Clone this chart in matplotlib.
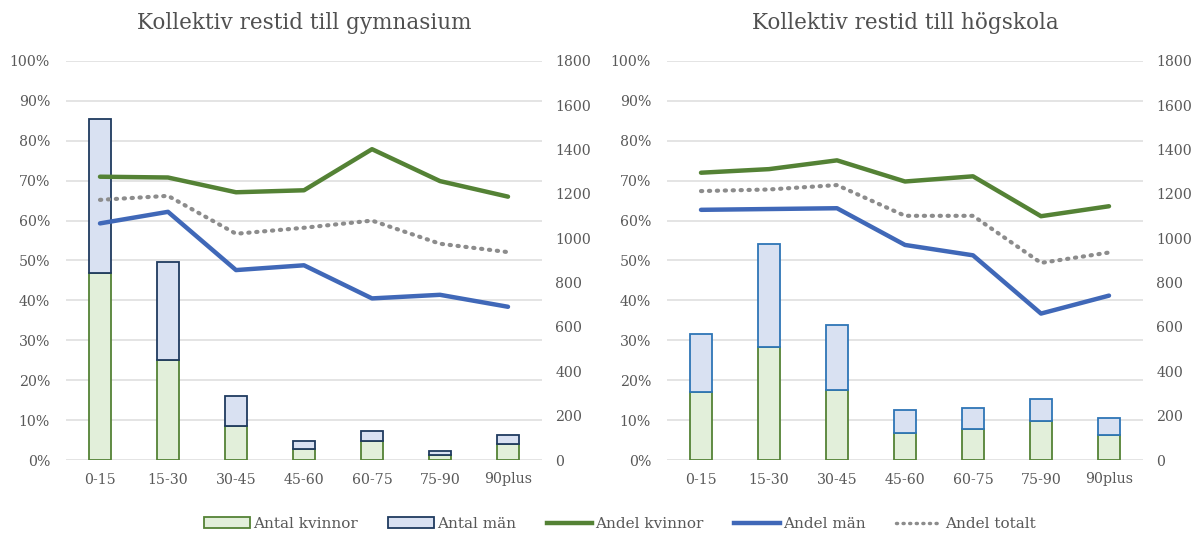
import matplotlib
matplotlib.use("Agg")
import matplotlib.pyplot as plt
import numpy as np
from matplotlib.patches import Patch
from matplotlib.lines import Line2D

categories = ["0-15", "15-30", "30-45", "45-60", "60-75", "75-90", "90plus"]

# Gymnasium
gym_kvinnor = [845, 451, 153, 48, 87, 21, 71]
gym_man = [693, 441, 136, 36, 44, 20, 42]
gym_andel_kvinnor = [71.0, 70.8, 67.1, 67.6, 77.9, 69.9, 66.0]
gym_andel_man = [59.3, 62.2, 47.6, 48.8, 40.5, 41.4, 38.4]
gym_andel_totalt = [65.2, 66.2, 56.7, 58.2, 60.0, 54.2, 52.1]

# Högskola
hog_kvinnor = [307, 512, 315, 120, 138, 174, 111]
hog_man = [260, 461, 294, 105, 97, 101, 80]
hog_andel_kvinnor = [72.0, 72.9, 75.1, 69.8, 71.1, 61.1, 63.6]
hog_andel_man = [62.7, 62.9, 63.1, 53.9, 51.3, 36.7, 41.2]
hog_andel_totalt = [67.4, 67.8, 68.9, 61.2, 61.2, 49.4, 52.0]

titles = ["Kollektiv restid till gymnasium", "Kollektiv restid till högskola"]

FONT = "DejaVu Serif"
plt.rcParams["font.family"] = [FONT]

GREEN = "#548235"
BLUE = "#4068b8"
GRAY = "#8c8c8c"
FILL_W = "#e2efda"
FILL_M = "#d9e1f2"
EDGE_M = ["#1f3a5f", "#2e75b6"]
TXT = "#595959"
GRID = "#dcdcdc"

fig = plt.figure(figsize=(11.96, 5.34), dpi=100)

datasets = [
    (gym_kvinnor, gym_man, gym_andel_kvinnor, gym_andel_man, gym_andel_totalt),
    (hog_kvinnor, hog_man, hog_andel_kvinnor, hog_andel_man, hog_andel_totalt),
]
lefts = [66 / 1196, 667 / 1196]
W = 476 / 1196
B = (534 - 460) / 534
H = 399 / 534

x = np.arange(len(categories))
for i, (kv, ma, ak, am, at) in enumerate(datasets):
    ax = fig.add_axes([lefts[i], B, W, H])
    ax2 = ax.twinx()
    # grid lines at every 10 % of the primary axis (drawn on the secondary, behind bars)
    for v in np.arange(0, 101, 10):
        ax2.axhline(v * 18, color=GRID, linewidth=1.1, zorder=0)
    # bars on secondary axis
    ax2.bar(x, kv, width=0.32, color=FILL_W, edgecolor=GREEN, linewidth=1.3, zorder=2)
    ax2.bar(x, ma, bottom=kv, width=0.32, color=FILL_M, edgecolor=EDGE_M[i], linewidth=1.3, zorder=2)
    ax2.set_ylim(0, 1800)
    ax2.set_yticks(np.arange(0, 1801, 200))
    # lines on primary axis, drawn above bars
    ax.set_zorder(ax2.get_zorder() + 1)
    ax.patch.set_visible(False)
    ax.plot(x, ak, color=GREEN, linewidth=3.2, solid_capstyle="round", zorder=3)
    ax.plot(x, am, color=BLUE, linewidth=3.2, solid_capstyle="round", zorder=3)
    ax.plot(x, at, color=GRAY, linewidth=3.0, linestyle=(0, (0.3, 1.6)), dash_capstyle="round", zorder=3)
    ax.set_ylim(0, 100)
    ax.set_yticks(np.arange(0, 101, 10))
    ax.set_yticklabels([f"{v}%" for v in range(0, 101, 10)])
    ax.set_xlim(-0.5, len(categories) - 0.5)
    ax.set_xticks(x)
    ax.set_xticklabels(categories)
    for a in (ax, ax2):
        for s in a.spines.values():
            s.set_visible(False)
        a.tick_params(length=0, colors=TXT, labelsize=10.2)
    ax.tick_params(axis="y", pad=11.5)
    ax2.tick_params(axis="y", pad=9.5)
    ax.tick_params(axis="x", pad=9)
    ax.set_title(titles[i], fontsize=15.5, color="#505050", pad=23)

handles = [
    Patch(facecolor=FILL_W, edgecolor=GREEN, linewidth=1.3, label="Antal kvinnor"),
    Patch(facecolor=FILL_M, edgecolor=EDGE_M[0], linewidth=1.3, label="Antal män"),
    Line2D([0], [0], color=GREEN, linewidth=3.2, label="Andel kvinnor"),
    Line2D([0], [0], color=BLUE, linewidth=3.2, label="Andel män"),
    Line2D([0], [0], color=GRAY, linewidth=2.5, linestyle=(0, (0.3, 1.6)), dash_capstyle="round", label="Andel totalt"),
]
leg = fig.legend(handles=handles, loc="center", bbox_to_anchor=(620 / 1196, (534 - 524) / 534),
                 ncol=5, frameon=False, fontsize=11, handlelength=3.0, handletextpad=0.2,
                 columnspacing=2.0)
for t in leg.get_texts():
    t.set_color(TXT)

fig.savefig("out.png", dpi=100)
